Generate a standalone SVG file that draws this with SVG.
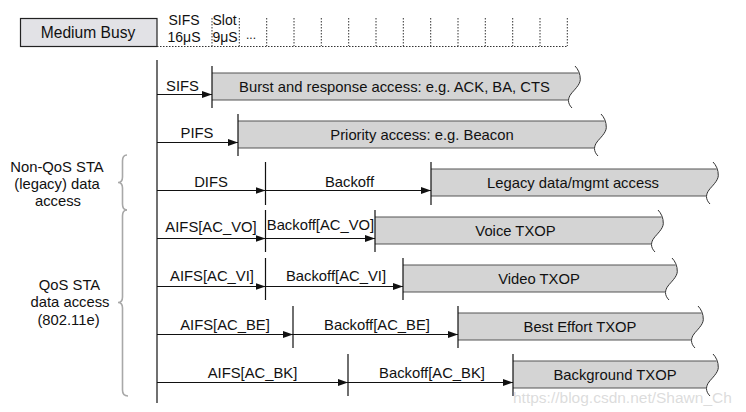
<svg xmlns="http://www.w3.org/2000/svg" width="746" height="412" viewBox="0 0 746 412">
<defs>
<marker id="ah" markerUnits="userSpaceOnUse" markerWidth="11" markerHeight="8" refX="10" refY="3.5" orient="auto">
<path d="M0,0 L10,3.5 L0,7 z" fill="#111"/>
</marker>
<style>
text{font-family:"Liberation Sans",Arial,sans-serif;font-size:14.8px;fill:#111}
.c{text-anchor:middle}
.fill{fill:#d4d4d4;stroke:none}
.edge{fill:none;stroke:#555;stroke-width:1.2}
.wave{fill:none;stroke:#333;stroke-width:1}
.tick{stroke:#111;stroke-width:1.2}
.arr{stroke:#111;stroke-width:1.2;marker-end:url(#ah)}
.dot{stroke:#333;stroke-width:1;stroke-dasharray:1.5,1.5;fill:none}
.brace{fill:none;stroke:#a8a8a8;stroke-width:1.6}
</style>
</defs>
<rect width="746" height="412" fill="#fff"/>

<g id="medium-busy">
<rect x="20.5" y="18.5" width="136.5" height="28" fill="#e2e2e6" stroke="#222" stroke-width="1.2"/>
<text class="c" x="88" y="37.5" style="font-size:15.6px">Medium Busy</text>
</g>

<g id="time-scale">
<path class="dot" d="M157,46.5 H567.5 M212,18 V46 M239.3,18 V46 M266.7,18 V46 M294,18 V46 M321.3,18 V46 M348.7,18 V46 M376,18 V46 M403.3,18 V46 M430.7,18 V46 M458,18 V46 M485.3,18 V46 M512.7,18 V46 M540,18 V46 M567.3,18 V46"/>
<text class="c" x="184" y="25" style="font-size:14px">SIFS</text>
<text class="c" x="184" y="41.5" style="font-size:14px">16μS</text>
<text x="212.5" y="25" style="font-size:14px">Slot</text>
<text x="212.5" y="41.5" style="font-size:14px">9μS</text>
<text x="246" y="39" style="font-size:12px">...</text>
</g>

<g id="row-sifs">
<g transform="translate(577,73)">
<path class="fill" d="M-365,0 H1.5 C3,3 3.4,5 3.3,6.7 C3,12 -3,17 -6,21 C-8,24 -8.8,26 -9,27 H-365 Z"/>
<path class="edge" d="M-365,0 H1.5 M-365,27 H-9"/>
<path class="wave" d="M-2,-7 C1,-4 3.5,1 3.3,6.7 C3,12 -3,17 -6,21 C-9,25 -10,30 -5,35"/>
</g>
<text class="c" x="394.5" y="91.5">Burst and response access: e.g. ACK, BA, CTS</text>
<text class="c" x="182.5" y="90.5">SIFS</text>
</g>

<g id="row-pifs">
<g transform="translate(603,121)">
<path class="fill" d="M-365,0 H1.5 C3,3 3.4,5 3.3,6.7 C3,12 -3,17 -6,21 C-8,24 -8.8,26 -9,27 H-365 Z"/>
<path class="edge" d="M-365,0 H1.5 M-365,27 H-9"/>
<path class="wave" d="M-2,-7 C1,-4 3.5,1 3.3,6.7 C3,12 -3,17 -6,21 C-9,25 -10,30 -5,35"/>
</g>
<text class="c" x="422" y="139.5">Priority access: e.g. Beacon</text>
<text class="c" x="197" y="138">PIFS</text>
</g>

<g id="row-difs">
<g transform="translate(715,169)">
<path class="fill" d="M-284,0 H1.5 C3,3 3.4,5 3.3,6.7 C3,12 -3,17 -6,21 C-8,24 -8.8,26 -9,27 H-284 Z"/>
<path class="edge" d="M-284,0 H1.5 M-284,27 H-9"/>
<path class="wave" d="M-2,-7 C1,-4 3.5,1 3.3,6.7 C3,12 -3,17 -6,21 C-9,25 -10,30 -5,35"/>
</g>
<text class="c" x="573" y="187.5">Legacy data/mgmt access</text>
<text class="c" x="211" y="187">DIFS</text>
<text class="c" x="349.5" y="187">Backoff</text>
</g>

<g id="row-vo">
<g transform="translate(660,217)">
<path class="fill" d="M-285,0 H1.5 C3,3 3.4,5 3.3,6.7 C3,12 -3,17 -6,21 C-8,24 -8.8,26 -9,27 H-285 Z"/>
<path class="edge" d="M-285,0 H1.5 M-285,27 H-9"/>
<path class="wave" d="M-2,-7 C1,-4 3.5,1 3.3,6.7 C3,12 -3,17 -6,21 C-9,25 -10,30 -5,35"/>
</g>
<text class="c" x="515.5" y="235.5">Voice TXOP</text>
<text class="c" x="211" y="232">AIFS[AC_VO]</text>
<text class="c" x="320.5" y="230">Backoff[AC_VO]</text>
</g>

<g id="row-vi">
<g transform="translate(674,265)">
<path class="fill" d="M-271,0 H1.5 C3,3 3.4,5 3.3,6.7 C3,12 -3,17 -6,21 C-8,24 -8.8,26 -9,27 H-271 Z"/>
<path class="edge" d="M-271,0 H1.5 M-271,27 H-9"/>
<path class="wave" d="M-2,-7 C1,-4 3.5,1 3.3,6.7 C3,12 -3,17 -6,21 C-9,25 -10,30 -5,35"/>
</g>
<text class="c" x="539" y="283.5">Video TXOP</text>
<text class="c" x="212" y="281">AIFS[AC_VI]</text>
<text class="c" x="336" y="281">Backoff[AC_VI]</text>
</g>

<g id="row-be">
<g transform="translate(700,313)">
<path class="fill" d="M-242,0 H1.5 C3,3 3.4,5 3.3,6.7 C3,12 -3,17 -6,21 C-8,24 -8.8,26 -9,27 H-242 Z"/>
<path class="edge" d="M-242,0 H1.5 M-242,27 H-9"/>
<path class="wave" d="M-2,-7 C1,-4 3.5,1 3.3,6.7 C3,12 -3,17 -6,21 C-9,25 -10,30 -5,35"/>
</g>
<text class="c" x="580" y="331.5">Best Effort TXOP</text>
<text class="c" x="225" y="330">AIFS[AC_BE]</text>
<text class="c" x="377" y="330">Backoff[AC_BE]</text>
</g>

<g id="row-bk">
<g transform="translate(715,361)">
<path class="fill" d="M-202,0 H1.5 C3,3 3.4,5 3.3,6.7 C3,12 -3,17 -6,21 C-8,24 -8.8,26 -9,27 H-202 Z"/>
<path class="edge" d="M-202,0 H1.5 M-202,27 H-9"/>
<path class="wave" d="M-2,-7 C1,-4 3.5,1 3.3,6.7 C3,12 -3,17 -6,21 C-9,25 -10,30 -5,35"/>
</g>
<text class="c" x="615" y="379.5">Background TXOP</text>
<text class="c" x="252.5" y="378">AIFS[AC_BK]</text>
<text class="c" x="432" y="378">Backoff[AC_BK]</text>
</g>

<g id="group-labels">
<path class="brace" d="M127,155 Q122.5,155 122.5,161 V177 Q122.5,182.5 118,182.5 Q122.5,182.5 122.5,188 V204 Q122.5,210 127,210"/>
<path class="brace" d="M127,210 Q122.5,210 122.5,216 V297 Q122.5,302.5 118,302.5 Q122.5,302.5 122.5,308 V390 Q122.5,396 128,396"/>
<text class="c" x="57" y="172">Non-QoS STA</text>
<text class="c" x="57" y="189">(legacy) data</text>
<text class="c" x="58" y="206">access</text>
<text class="c" x="69.5" y="290">QoS STA</text>
<text class="c" x="70" y="307">data access</text>
<text class="c" x="68.5" y="325">(802.11e)</text>
</g>

<g id="connectors">
<path class="tick" d="M157,60 V403"/>
<path class="tick" d="M212,66 V108 M238,114 V156 M265.5,162 V205 M431,162 V205 M265.5,210 V252 M375,210 V252 M265.5,258 V300 M403,258 V300 M293,306 V348 M458,306 V348 M348,354 V396 M513,354 V396"/>
<line class="arr" x1="157" y1="94.5" x2="212" y2="94.5"/>
<line class="arr" x1="157" y1="142.5" x2="238" y2="142.5"/>
<line class="arr" x1="157" y1="190.5" x2="265.5" y2="190.5"/>
<line class="arr" x1="265.5" y1="190.5" x2="431" y2="190.5"/>
<line class="arr" x1="157" y1="238.5" x2="265.5" y2="238.5"/>
<line class="arr" x1="265.5" y1="238.5" x2="375" y2="238.5"/>
<line class="arr" x1="157" y1="286.5" x2="265.5" y2="286.5"/>
<line class="arr" x1="265.5" y1="286.5" x2="403" y2="286.5"/>
<line class="arr" x1="157" y1="334.5" x2="293" y2="334.5"/>
<line class="arr" x1="293" y1="334.5" x2="458" y2="334.5"/>
<line class="arr" x1="157" y1="382.5" x2="348" y2="382.5"/>
<line class="arr" x1="348" y1="382.5" x2="513" y2="382.5"/>
</g>

<text x="513" y="403" style="font-size:15.5px;fill:#d6d6d6;fill-opacity:0.85">https://blog.csdn.net/Shawn_Ch</text>
</svg>
